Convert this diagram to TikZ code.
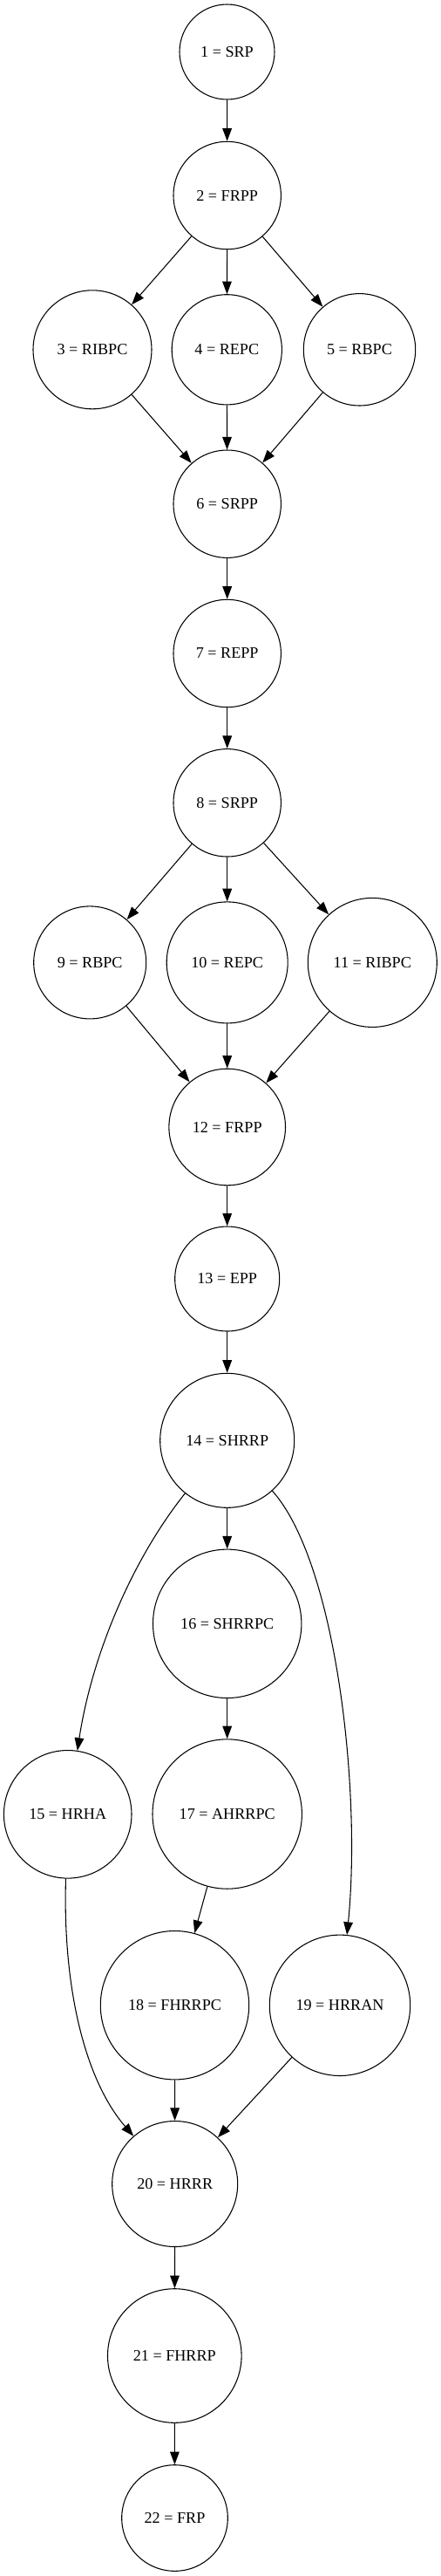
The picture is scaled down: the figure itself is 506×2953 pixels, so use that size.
\documentclass[tikz,border=0pt]{standalone}
\usepackage{fontspec}
\setmainfont{Liberation Serif}
\usetikzlibrary{arrows.meta}

\begin{document}
\begin{tikzpicture} [
			x=0.75pt, y=-0.75pt,
			every node/.style={font=\fontsize{13.6}{16}\selectfont},
			state/.style={draw,circle,line width=0.8pt,inner sep=0pt},
			diam/.style={minimum size=#1*0.75pt},
			link/.style={line width=0.8pt,-{Triangle[length=11pt,width=8pt]}}
		]
			\useasboundingbox (0,0) rectangle (506,2953);
			\node at (260.5,59.5) [state,diam=109] (node1) {1 = SRP};
			\node at (260.7,224) [state,diam=123.4] (node2) {2 = FRPP};
			\node at (106,400.8) [state,diam=136] (node3) {3 = RIBPC};
			\node at (260.3,400.8) [state,diam=126.2] (node4) {4 = REPC};
			\node at (412.5,400.8) [state,diam=128.4] (node5) {5 = RBPC};
			\node at (260.7,577.7) [state,diam=123.4] (node6) {6 = SRPP};
			\node at (260.7,749) [state,diam=123.4] (node7) {7 = REPP};
			\node at (260.7,920.3) [state,diam=123.4] (node8) {8 = SRPP};
			\node at (103.2,1103.4) [state,diam=129] (node9) {9 = RBPC};
			\node at (260.7,1103.4) [state,diam=139] (node10) {10 = REPC};
			\node at (427.3,1103.4) [state,diam=148] (node11) {11 = RIBPC};
			\node at (260.7,1292) [state,diam=133.6] (node12) {12 = FRPP};
			\node at (260.7,1466) [state,diam=120] (node13) {13 = EPP};
			\node at (260.7,1651.3) [state,diam=154] (node14) {14 = SHRRP};
			\node at (77.7,2079.8) [state,diam=146.6] (node15) {15 = HRHA};
			\node at (260.7,1861.3) [state,diam=170.4] (node16) {16 = SHRRPC};
			\node at (260.7,2079.5) [state,diam=171.4] (node17) {17 = AHRRPC};
			\node at (200.5,2298.7) [state,diam=170.4] (node18) {18 = FHRRPC};
			\node at (390,2298.8) [state,diam=161.4] (node19) {19 = HRRAN};
			\node at (200.7,2503.5) [state,diam=144] (node20) {20 = HRRR};
			\node at (200.3,2700.5) [state,diam=153.6] (node21) {21 = FHRRP};
			\node at (200.5,2886.5) [state,diam=121.6] (node22) {22 = FRP};
			\path[link] (node1) edge (node2);
			\path[link] (node2) edge (node3);
			\path[link] (node2) edge (node4);
			\path[link] (node2) edge (node5);
			\path[link] (node3) edge (node6);
			\path[link] (node4) edge (node6);
			\path[link] (node5) edge (node6);
			\path[link] (node6) edge (node7);
			\path[link] (node7) edge (node8);
			\path[link] (node8) edge (node9);
			\path[link] (node8) edge (node10);
			\path[link] (node8) edge (node11);
			\path[link] (node9) edge (node12);
			\path[link] (node10) edge (node12);
			\path[link] (node11) edge (node12);
			\path[link] (node12) edge (node13);
			\path[link] (node13) edge (node14);
			\draw[link] (node14) .. controls (150,1790) and (105,1900) .. (node15);
			\path[link] (node14) edge (node16);
			\draw[link] (node14) .. controls (385,1790) and (415,2050) .. (node19);
			\path[link] (node16) edge (node17);
			\path[link] (node17) edge (node18);
			\draw[link] (node15) .. controls (71.7,2280) and (98,2385) .. (node20);
			\path[link] (node18) edge (node20);
			\path[link] (node19) edge (node20);
			\path[link] (node20) edge (node21);
			\path[link] (node21) edge (node22);
		\end{tikzpicture}
\end{document}
